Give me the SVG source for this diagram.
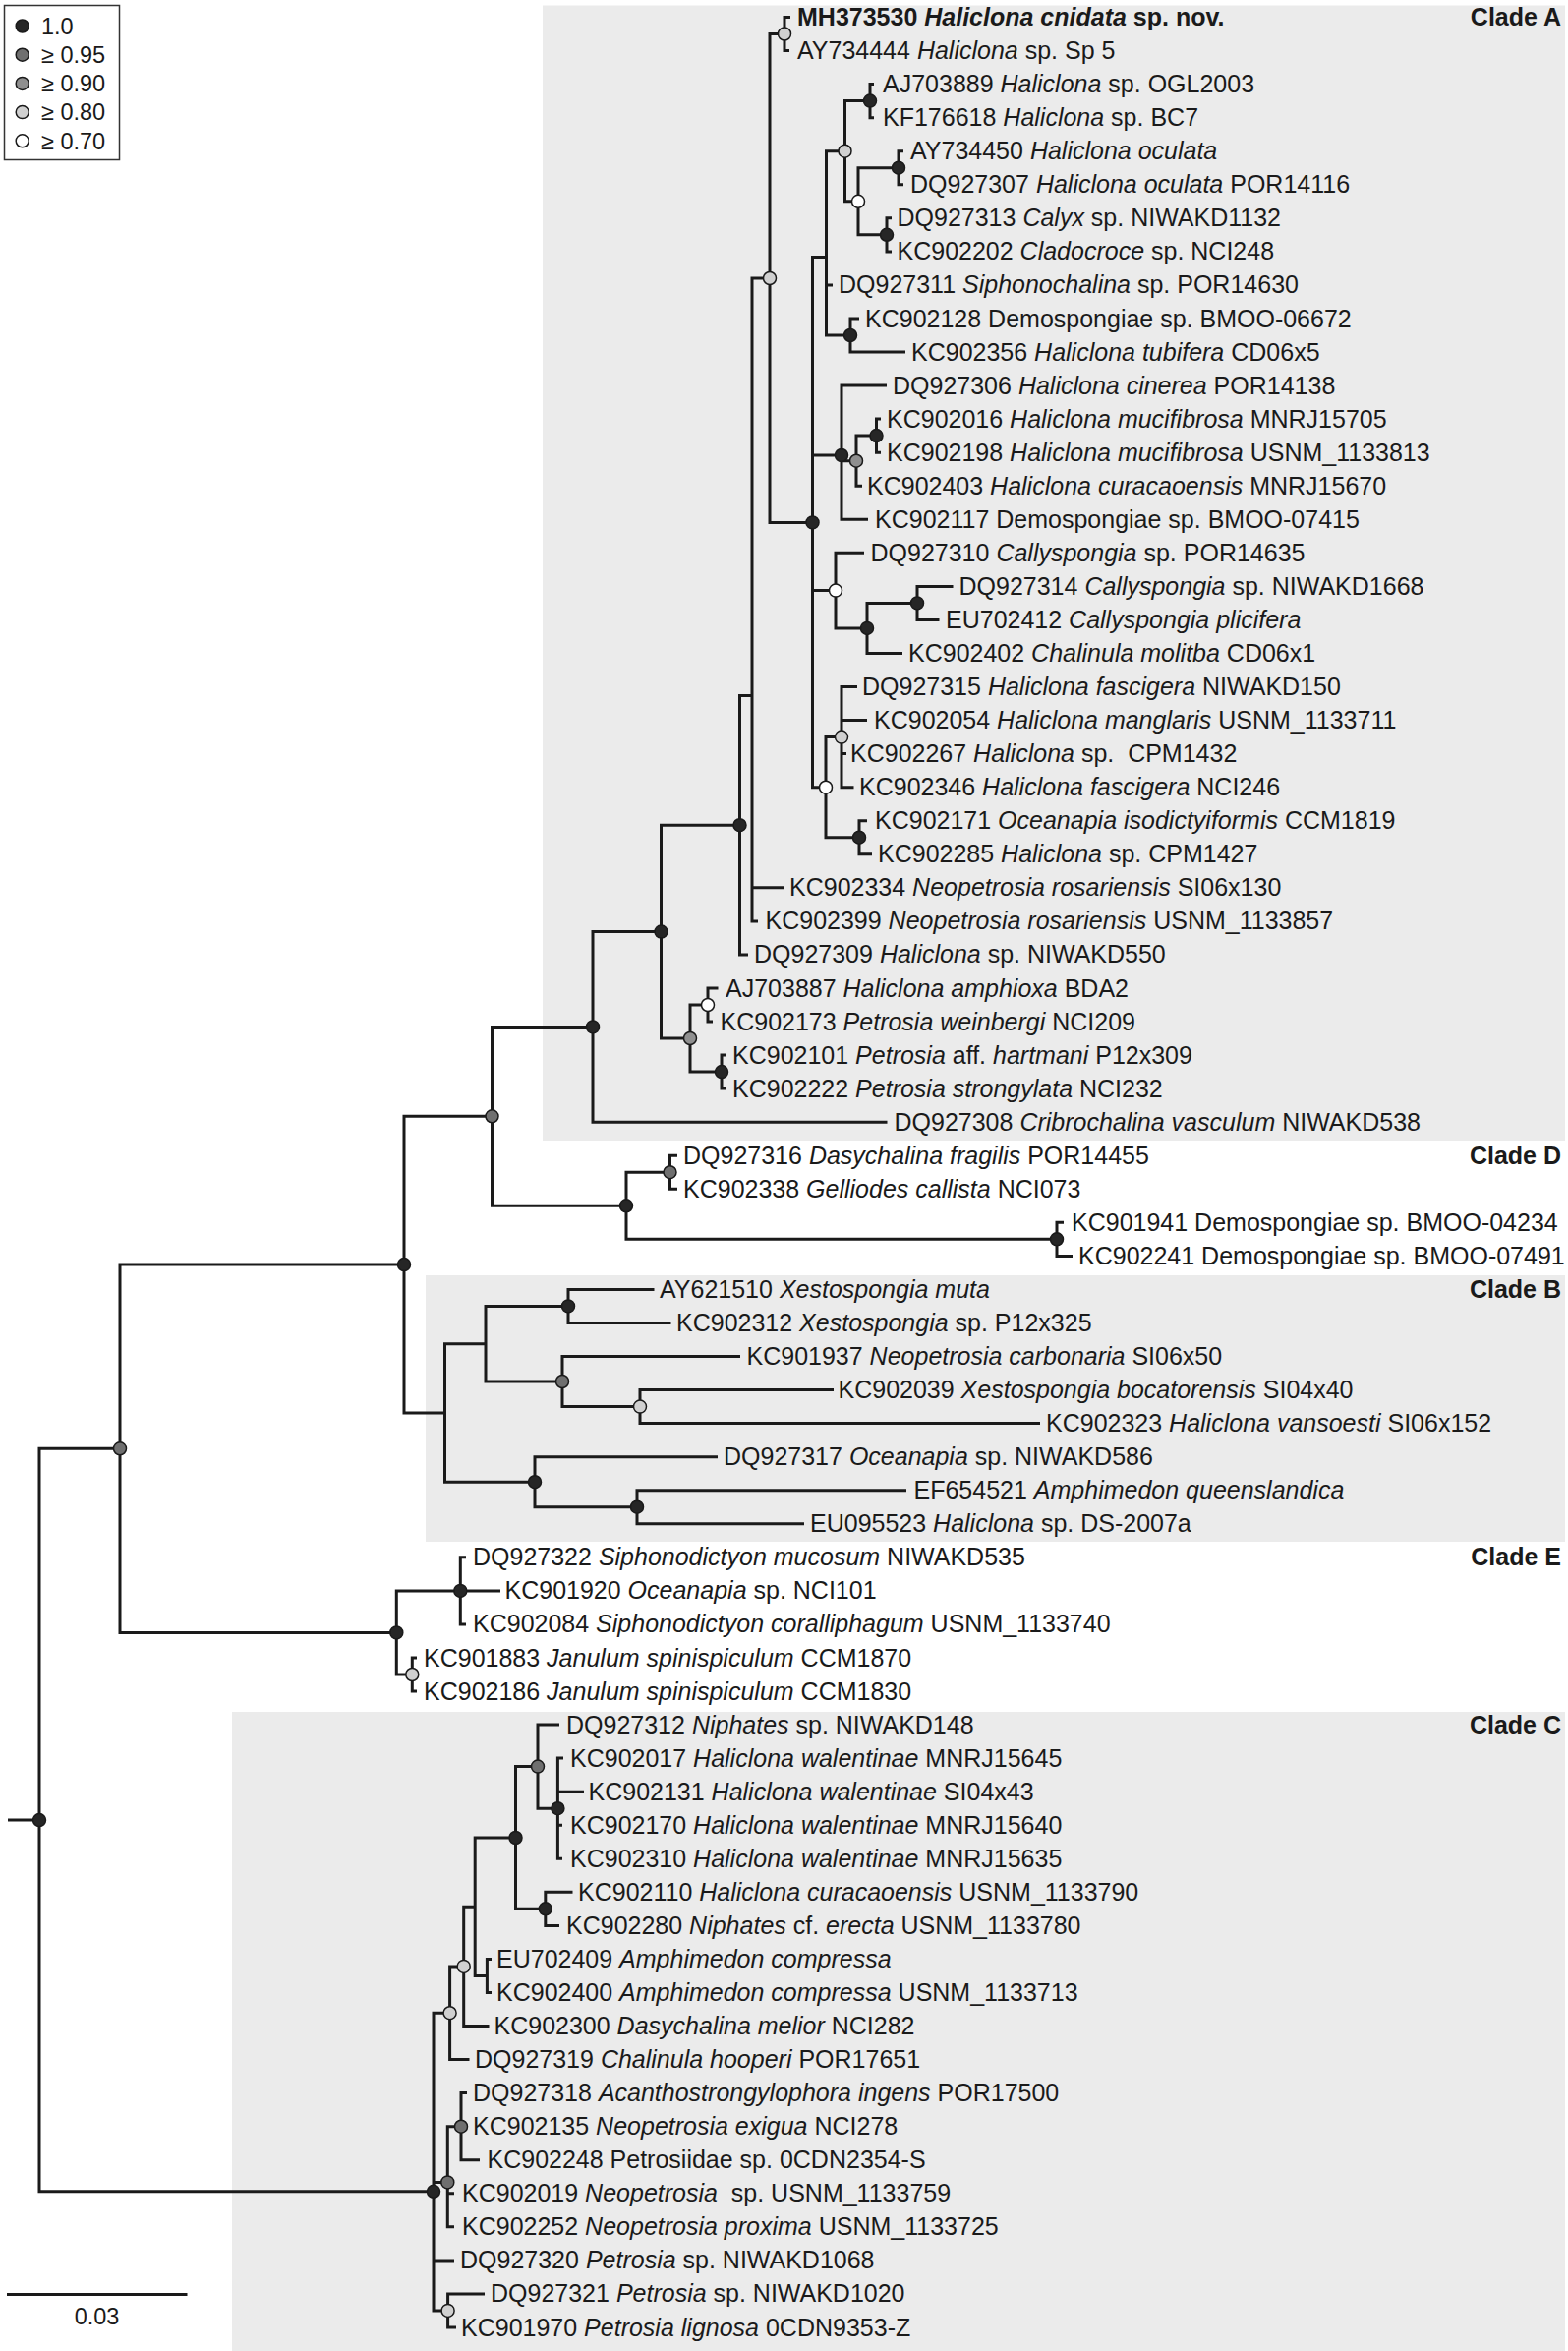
<svg xmlns="http://www.w3.org/2000/svg" width="1595" height="2391" viewBox="0 0 1595 2391">
<style>
.bg{fill:#ebebeb}
.ln{fill:none;stroke:#1a1a1a;stroke-width:3;stroke-linejoin:miter;stroke-linecap:butt}
.lb{font-family:"Liberation Sans",Arial,sans-serif;font-size:25px;fill:#1a1a1a}
.b{font-weight:bold}
.i{font-style:italic}
.lg{font-family:"Liberation Sans",Arial,sans-serif;font-size:23.5px;fill:#1a1a1a}
circle{stroke:#1a1a1a;stroke-width:1.5}
.c1{fill:#262626}
.c95{fill:#6f6f6f}
.c90{fill:#8f8f8f}
.c80{fill:#d0d0d0}
.c70{fill:#ffffff}
</style>
<rect width="1595" height="2391" fill="#ffffff"/>
<g id="clade-backgrounds">
<rect class="bg" x="552" y="5.5" width="1040" height="1154.5"/>
<rect class="bg" x="433" y="1297" width="1159" height="271"/>
<rect class="bg" x="236" y="1741" width="1356" height="1646"/>
</g>
<g id="legend">
<rect x="4.5" y="5.5" width="117" height="157" fill="#ffffff" stroke="#333" stroke-width="1.5"/>
<circle class="c1" cx="22.7" cy="26.5" r="6.5"/>
<circle class="c95" cx="22.7" cy="55.7" r="6.5"/>
<circle class="c90" cx="22.7" cy="84.9" r="6.5"/>
<circle class="c80" cx="22.7" cy="114.1" r="6.5"/>
<circle class="c70" cx="22.7" cy="143.3" r="6.5"/>
<text class="lg" x="42" y="34.8">1.0</text>
<text class="lg" x="42" y="64">≥ 0.95</text>
<text class="lg" x="42" y="93.2">≥ 0.90</text>
<text class="lg" x="42" y="122.4">≥ 0.80</text>
<text class="lg" x="42" y="151.6">≥ 0.70</text>
</g>
<g id="connectors">
<path class="ln" d="M804 17.5H798V51.6H803 M889 85.6H885V119.7H889 M919 153.7H914V187.8H919 M907 221.8H902V255.9H907 M914 170.7H873V238.8H902 M885 102.6H859.5V204.8H873 M874 324H865V358H921 M859.5 153.7H840.5V341H865 M840.5 289.9H847"/>
<path class="ln" d="M896 426.1H891.5V460.2H896 M891.5 443.1H871V494.2H877 M902 392.1H856V528.3H883 M856 468.7H871"/>
<path class="ln" d="M969.5 596.4H933V630.4H955.5 M933 613.4H882V664.5H918 M879 562.3H850V638.9H882"/>
<path class="ln" d="M872 698.5H856V800.7H868.5 M856 732.6H882 M856 766.6H861 M882 834.7H874V868.8H887 M856 749.6H840V851.7H874"/>
<path class="ln" d="M840.5 261.5H826.5V800.7H840 M826.5 463H856 M826.5 600.6H850 M798 34.5H783V531.4H826.5 M783 283H765V936.9H771 M765 902.8H797.5 M765 707.5H752.5V970.9H761"/>
<path class="ln" d="M730.5 1005H720V1039H725 M739 1073.1H734V1107.1H739 M720 1022H702V1090.1H734 M752.5 839.2H672.5V1056H702 M672.5 947.6H603V1141.2H902.5"/>
<path class="ln" d="M689 1175.2H681.5V1209.3H689 M1082 1243.3H1075V1277.4H1091 M681.5 1192.2H637V1260.3H1075 M603 1044.4H500.5V1226.3H637"/>
<path class="ln" d="M665.5 1311.4H578V1345.5H682.5 M848 1413.6H651V1447.6H1058 M753 1379.5H572V1430.6H651 M578 1328.4H494V1405H572 M922 1515.7H648V1549.8H818 M730 1481.7H544V1532.7H648 M494 1366.7H452.5V1507.2H544 M500.5 1135.3H411V1437H452.5"/>
<path class="ln" d="M474 1583.8H468.3V1651.9H474 M468.3 1617.9H509 M424 1686H419.3V1720H424 M468.3 1617.9H403.3V1703H419.3 M411 1286.1H122V1660.4H403.3"/>
<path class="ln" d="M573 1788.1H567.4V1890.3H572 M567.4 1822.2H594 M567.4 1856.2H572 M569 1754.1H547V1839.2H567.4 M582.5 1924.3H554.8V1958.4H569 M547 1796.6H524.5V1941.3H554.8 M500 1992.4H495.4V2026.5H500 M524.5 1869H483.2V2009.4H495.4 M483.2 1939.2H471.7V2060.5H497.5 M471.7 1999.9H457.6V2094.6H477.5"/>
<path class="ln" d="M475 2128.6H469V2196.7H488 M469 2162.7H475 M469 2162.7H455.3V2264.8H462 M455.3 2230.8H462 M493 2332.9H455.6V2367H464 M457.6 2047.2H441V2349.9H455.6 M441 2219.4H455.3 M441 2298.9H462"/>
<path class="ln" d="M122 1473.3H40V2228.8H441 M8 1851.1H40"/>
</g>
<g id="support-nodes">
<g id="node-A1"><circle class="c80" cx="798" cy="34.5" r="6.5"/></g>
<g id="node-A2"><circle class="c1" cx="885" cy="102.6" r="6.5"/></g>
<g id="node-A3"><circle class="c1" cx="914" cy="170.7" r="6.5"/></g>
<g id="node-A4"><circle class="c1" cx="902" cy="238.8" r="6.5"/></g>
<g id="node-A5"><circle class="c70" cx="873" cy="204.8" r="6.5"/></g>
<g id="node-A6"><circle class="c80" cx="859.5" cy="153.7" r="6.5"/></g>
<g id="node-A7"><circle class="c1" cx="865" cy="341" r="6.5"/></g>
<g id="node-A8"><circle class="c1" cx="891.5" cy="443.1" r="6.5"/></g>
<g id="node-A9"><circle class="c90" cx="871" cy="468.7" r="6.5"/></g>
<g id="node-A10"><circle class="c1" cx="856" cy="463" r="6.5"/></g>
<g id="node-A11"><circle class="c1" cx="933" cy="613.4" r="6.5"/></g>
<g id="node-A12"><circle class="c1" cx="882" cy="638.9" r="6.5"/></g>
<g id="node-A13"><circle class="c70" cx="850" cy="600.6" r="6.5"/></g>
<g id="node-A14"><circle class="c80" cx="856" cy="749.6" r="6.5"/></g>
<g id="node-A15"><circle class="c1" cx="874" cy="851.7" r="6.5"/></g>
<g id="node-A16"><circle class="c70" cx="840" cy="800.7" r="6.5"/></g>
<g id="node-A17"><circle class="c1" cx="826.5" cy="531.4" r="6.5"/></g>
<g id="node-A18"><circle class="c80" cx="783" cy="283" r="6.5"/></g>
<g id="node-A19"><circle class="c1" cx="752.5" cy="839.2" r="6.5"/></g>
<g id="node-A20"><circle class="c70" cx="720" cy="1022" r="6.5"/></g>
<g id="node-A21"><circle class="c1" cx="734" cy="1090.1" r="6.5"/></g>
<g id="node-A22"><circle class="c90" cx="702" cy="1056" r="6.5"/></g>
<g id="node-A23"><circle class="c1" cx="672.5" cy="947.6" r="6.5"/></g>
<g id="node-A24"><circle class="c1" cx="603" cy="1044.4" r="6.5"/></g>
<g id="node-D1"><circle class="c95" cx="681.5" cy="1192.2" r="6.5"/></g>
<g id="node-D2"><circle class="c1" cx="1075" cy="1260.3" r="6.5"/></g>
<g id="node-D3"><circle class="c1" cx="637" cy="1226.3" r="6.5"/></g>
<g id="node-AD"><circle class="c95" cx="500.5" cy="1135.3" r="6.5"/></g>
<g id="node-B1"><circle class="c1" cx="578" cy="1328.4" r="6.5"/></g>
<g id="node-B2"><circle class="c80" cx="651" cy="1430.6" r="6.5"/></g>
<g id="node-B3"><circle class="c95" cx="572" cy="1405" r="6.5"/></g>
<g id="node-B4"><circle class="c1" cx="648" cy="1532.7" r="6.5"/></g>
<g id="node-B5"><circle class="c1" cx="544" cy="1507.2" r="6.5"/></g>
<g id="node-ADB"><circle class="c1" cx="411" cy="1286.1" r="6.5"/></g>
<g id="node-E1"><circle class="c1" cx="468.3" cy="1617.9" r="6.5"/></g>
<g id="node-E2"><circle class="c80" cx="419.3" cy="1703" r="6.5"/></g>
<g id="node-E3"><circle class="c1" cx="403.3" cy="1660.4" r="6.5"/></g>
<g id="node-ADBE"><circle class="c95" cx="122" cy="1473.3" r="6.5"/></g>
<g id="node-C1"><circle class="c1" cx="567.4" cy="1839.2" r="6.5"/></g>
<g id="node-C2"><circle class="c95" cx="547" cy="1796.6" r="6.5"/></g>
<g id="node-C3"><circle class="c1" cx="554.8" cy="1941.3" r="6.5"/></g>
<g id="node-C4"><circle class="c1" cx="524.5" cy="1869" r="6.5"/></g>
<g id="node-C5"><circle class="c80" cx="471.7" cy="1999.9" r="6.5"/></g>
<g id="node-C6"><circle class="c80" cx="457.6" cy="2047.2" r="6.5"/></g>
<g id="node-C7"><circle class="c95" cx="469" cy="2162.7" r="6.5"/></g>
<g id="node-C8"><circle class="c95" cx="455.3" cy="2219.4" r="6.5"/></g>
<g id="node-C9"><circle class="c80" cx="455.6" cy="2349.9" r="6.5"/></g>
<g id="node-C10"><circle class="c1" cx="441" cy="2228.8" r="6.5"/></g>
<g id="node-root"><circle class="c1" cx="40" cy="1851.1" r="6.5"/></g>
</g>
<g id="clade-labels">
<text class="lb b" x="1588" y="26" text-anchor="end">Clade A</text>
<text class="lb b" x="1588" y="1183.7" text-anchor="end">Clade D</text>
<text class="lb b" x="1588" y="1319.9" text-anchor="end">Clade B</text>
<text class="lb b" x="1588" y="1592.3" text-anchor="end">Clade E</text>
<text class="lb b" x="1588" y="1762.6" text-anchor="end">Clade C</text>
</g>
<g id="leaves">
<g id="leaf-MH373530"><text class="lb b" x="811" y="26">MH373530 <tspan class="i">Haliclona cnidata</tspan> sp. nov.</text></g>
<g id="leaf-AY734444"><text class="lb" x="811" y="60.1">AY734444 <tspan class="i">Haliclona</tspan> sp. Sp 5</text></g>
<g id="leaf-AJ703889"><text class="lb" x="898" y="94.1">AJ703889 <tspan class="i">Haliclona</tspan> sp. OGL2003</text></g>
<g id="leaf-KF176618"><text class="lb" x="898" y="128.2">KF176618 <tspan class="i">Haliclona</tspan> sp. BC7</text></g>
<g id="leaf-AY734450"><text class="lb" x="926" y="162.2">AY734450 <tspan class="i">Haliclona oculata</tspan></text></g>
<g id="leaf-DQ927307"><text class="lb" x="926" y="196.3">DQ927307 <tspan class="i">Haliclona oculata</tspan> POR14116</text></g>
<g id="leaf-DQ927313"><text class="lb" x="912.5" y="230.3">DQ927313 <tspan class="i">Calyx</tspan> sp. NIWAKD1132</text></g>
<g id="leaf-KC902202"><text class="lb" x="912.5" y="264.4">KC902202 <tspan class="i">Cladocroce</tspan> sp. NCI248</text></g>
<g id="leaf-DQ927311"><text class="lb" x="853" y="298.4">DQ927311 <tspan class="i">Siphonochalina</tspan> sp. POR14630</text></g>
<g id="leaf-KC902128"><text class="lb" x="880" y="332.5">KC902128 Demospongiae sp. BMOO-06672</text></g>
<g id="leaf-KC902356"><text class="lb" x="927" y="366.5">KC902356 <tspan class="i">Haliclona tubifera</tspan> CD06x5</text></g>
<g id="leaf-DQ927306"><text class="lb" x="908" y="400.6">DQ927306 <tspan class="i">Haliclona cinerea</tspan> POR14138</text></g>
<g id="leaf-KC902016"><text class="lb" x="902" y="434.6">KC902016 <tspan class="i">Haliclona mucifibrosa</tspan> MNRJ15705</text></g>
<g id="leaf-KC902198"><text class="lb" x="902" y="468.7">KC902198 <tspan class="i">Haliclona mucifibrosa</tspan> USNM_1133813</text></g>
<g id="leaf-KC902403"><text class="lb" x="882" y="502.7">KC902403 <tspan class="i">Haliclona curacaoensis</tspan> MNRJ15670</text></g>
<g id="leaf-KC902117"><text class="lb" x="890" y="536.8">KC902117 Demospongiae sp. BMOO-07415</text></g>
<g id="leaf-DQ927310"><text class="lb" x="885.5" y="570.8">DQ927310 <tspan class="i">Callyspongia</tspan> sp. POR14635</text></g>
<g id="leaf-DQ927314"><text class="lb" x="975.5" y="604.9">DQ927314 <tspan class="i">Callyspongia</tspan> sp. NIWAKD1668</text></g>
<g id="leaf-EU702412"><text class="lb" x="962" y="638.9">EU702412 <tspan class="i">Callyspongia plicifera</tspan></text></g>
<g id="leaf-KC902402"><text class="lb" x="924" y="673">KC902402 <tspan class="i">Chalinula molitba</tspan> CD06x1</text></g>
<g id="leaf-DQ927315"><text class="lb" x="877" y="707">DQ927315 <tspan class="i">Haliclona fascigera</tspan> NIWAKD150</text></g>
<g id="leaf-KC902054"><text class="lb" x="889" y="741.1">KC902054 <tspan class="i">Haliclona manglaris</tspan> USNM_1133711</text></g>
<g id="leaf-KC902267"><text class="lb" x="865" y="775.1">KC902267 <tspan class="i">Haliclona</tspan> sp.&#160; CPM1432</text></g>
<g id="leaf-KC902346"><text class="lb" x="874" y="809.2">KC902346 <tspan class="i">Haliclona fascigera</tspan> NCI246</text></g>
<g id="leaf-KC902171"><text class="lb" x="890" y="843.2">KC902171 <tspan class="i">Oceanapia isodictyiformis</tspan> CCM1819</text></g>
<g id="leaf-KC902285"><text class="lb" x="893" y="877.3">KC902285 <tspan class="i">Haliclona</tspan> sp. CPM1427</text></g>
<g id="leaf-KC902334"><text class="lb" x="803" y="911.3">KC902334 <tspan class="i">Neopetrosia rosariensis</tspan> SI06x130</text></g>
<g id="leaf-KC902399"><text class="lb" x="778.5" y="945.4">KC902399 <tspan class="i">Neopetrosia rosariensis</tspan> USNM_1133857</text></g>
<g id="leaf-DQ927309"><text class="lb" x="767" y="979.4">DQ927309 <tspan class="i">Haliclona</tspan> sp. NIWAKD550</text></g>
<g id="leaf-AJ703887"><text class="lb" x="738" y="1013.5">AJ703887 <tspan class="i">Haliclona amphioxa</tspan> BDA2</text></g>
<g id="leaf-KC902173"><text class="lb" x="732.5" y="1047.5">KC902173 <tspan class="i">Petrosia weinbergi</tspan> NCI209</text></g>
<g id="leaf-KC902101"><text class="lb" x="745" y="1081.6">KC902101 <tspan class="i">Petrosia</tspan> aff. <tspan class="i">hartmani</tspan> P12x309</text></g>
<g id="leaf-KC902222"><text class="lb" x="745" y="1115.6">KC902222 <tspan class="i">Petrosia strongylata</tspan> NCI232</text></g>
<g id="leaf-DQ927308"><text class="lb" x="909.5" y="1149.7">DQ927308 <tspan class="i">Cribrochalina vasculum</tspan> NIWAKD538</text></g>
<g id="leaf-DQ927316"><text class="lb" x="695" y="1183.7">DQ927316 <tspan class="i">Dasychalina fragilis</tspan> POR14455</text></g>
<g id="leaf-KC902338"><text class="lb" x="695" y="1217.8">KC902338 <tspan class="i">Gelliodes callista</tspan> NCI073</text></g>
<g id="leaf-KC901941"><text class="lb" x="1090" y="1251.8">KC901941 Demospongiae sp. BMOO-04234</text></g>
<g id="leaf-KC902241"><text class="lb" x="1097" y="1285.9">KC902241 Demospongiae sp. BMOO-07491</text></g>
<g id="leaf-AY621510"><text class="lb" x="671" y="1319.9">AY621510 <tspan class="i">Xestospongia muta</tspan></text></g>
<g id="leaf-KC902312"><text class="lb" x="688" y="1354">KC902312 <tspan class="i">Xestospongia</tspan> sp. P12x325</text></g>
<g id="leaf-KC901937"><text class="lb" x="759.5" y="1388">KC901937 <tspan class="i">Neopetrosia carbonaria</tspan> SI06x50</text></g>
<g id="leaf-KC902039"><text class="lb" x="852.5" y="1422.1">KC902039 <tspan class="i">Xestospongia bocatorensis</tspan> SI04x40</text></g>
<g id="leaf-KC902323"><text class="lb" x="1064" y="1456.1">KC902323 <tspan class="i">Haliclona vansoesti</tspan> SI06x152</text></g>
<g id="leaf-DQ927317"><text class="lb" x="736" y="1490.2">DQ927317 <tspan class="i">Oceanapia</tspan> sp. NIWAKD586</text></g>
<g id="leaf-EF654521"><text class="lb" x="929.5" y="1524.2">EF654521 <tspan class="i">Amphimedon queenslandica</tspan></text></g>
<g id="leaf-EU095523"><text class="lb" x="824" y="1558.3">EU095523 <tspan class="i">Haliclona</tspan> sp. DS-2007a</text></g>
<g id="leaf-DQ927322"><text class="lb" x="481" y="1592.3">DQ927322 <tspan class="i">Siphonodictyon mucosum</tspan> NIWAKD535</text></g>
<g id="leaf-KC901920"><text class="lb" x="513.5" y="1626.4">KC901920 <tspan class="i">Oceanapia</tspan> sp. NCI101</text></g>
<g id="leaf-KC902084"><text class="lb" x="481" y="1660.4">KC902084 <tspan class="i">Siphonodictyon coralliphagum</tspan> USNM_1133740</text></g>
<g id="leaf-KC901883"><text class="lb" x="431" y="1694.5">KC901883 <tspan class="i">Janulum spinispiculum</tspan> CCM1870</text></g>
<g id="leaf-KC902186"><text class="lb" x="431" y="1728.5">KC902186 <tspan class="i">Janulum spinispiculum</tspan> CCM1830</text></g>
<g id="leaf-DQ927312"><text class="lb" x="576" y="1762.6">DQ927312 <tspan class="i">Niphates</tspan> sp. NIWAKD148</text></g>
<g id="leaf-KC902017"><text class="lb" x="580" y="1796.6">KC902017 <tspan class="i">Haliclona walentinae</tspan> MNRJ15645</text></g>
<g id="leaf-KC902131"><text class="lb" x="598.5" y="1830.7">KC902131 <tspan class="i">Haliclona walentinae</tspan> SI04x43</text></g>
<g id="leaf-KC902170"><text class="lb" x="580" y="1864.7">KC902170 <tspan class="i">Haliclona walentinae</tspan> MNRJ15640</text></g>
<g id="leaf-KC902310"><text class="lb" x="580" y="1898.8">KC902310 <tspan class="i">Haliclona walentinae</tspan> MNRJ15635</text></g>
<g id="leaf-KC902110"><text class="lb" x="588" y="1932.8">KC902110 <tspan class="i">Haliclona curacaoensis</tspan> USNM_1133790</text></g>
<g id="leaf-KC902280"><text class="lb" x="576" y="1966.9">KC902280 <tspan class="i">Niphates</tspan> cf. <tspan class="i">erecta</tspan> USNM_1133780</text></g>
<g id="leaf-EU702409"><text class="lb" x="505" y="2000.9">EU702409 <tspan class="i">Amphimedon compressa</tspan></text></g>
<g id="leaf-KC902400"><text class="lb" x="505" y="2035">KC902400 <tspan class="i">Amphimedon compressa</tspan> USNM_1133713</text></g>
<g id="leaf-KC902300"><text class="lb" x="502.5" y="2069">KC902300 <tspan class="i">Dasychalina melior</tspan> NCI282</text></g>
<g id="leaf-DQ927319"><text class="lb" x="483" y="2103.1">DQ927319 <tspan class="i">Chalinula hooperi</tspan> POR17651</text></g>
<g id="leaf-DQ927318"><text class="lb" x="481" y="2137.1">DQ927318 <tspan class="i">Acanthostrongylophora ingens</tspan> POR17500</text></g>
<g id="leaf-KC902135"><text class="lb" x="481" y="2171.2">KC902135 <tspan class="i">Neopetrosia exigua</tspan> NCI278</text></g>
<g id="leaf-KC902248"><text class="lb" x="495.5" y="2205.2">KC902248 Petrosiidae sp. 0CDN2354-S</text></g>
<g id="leaf-KC902019"><text class="lb" x="470" y="2239.3">KC902019 <tspan class="i">Neopetrosia</tspan>&#160; sp. USNM_1133759</text></g>
<g id="leaf-KC902252"><text class="lb" x="470" y="2273.3">KC902252 <tspan class="i">Neopetrosia proxima</tspan> USNM_1133725</text></g>
<g id="leaf-DQ927320"><text class="lb" x="468" y="2307.4">DQ927320 <tspan class="i">Petrosia</tspan> sp. NIWAKD1068</text></g>
<g id="leaf-DQ927321"><text class="lb" x="499" y="2341.4">DQ927321 <tspan class="i">Petrosia</tspan> sp. NIWAKD1020</text></g>
<g id="leaf-KC901970"><text class="lb" x="469" y="2375.5">KC901970 <tspan class="i">Petrosia lignosa</tspan> 0CDN9353-Z</text></g>
</g>
<g id="scale-bar">
<path class="ln" d="M7 2333.5H190.5"/>
<text class="lg" x="98.5" y="2364" text-anchor="middle">0.03</text>
</g>
</svg>
